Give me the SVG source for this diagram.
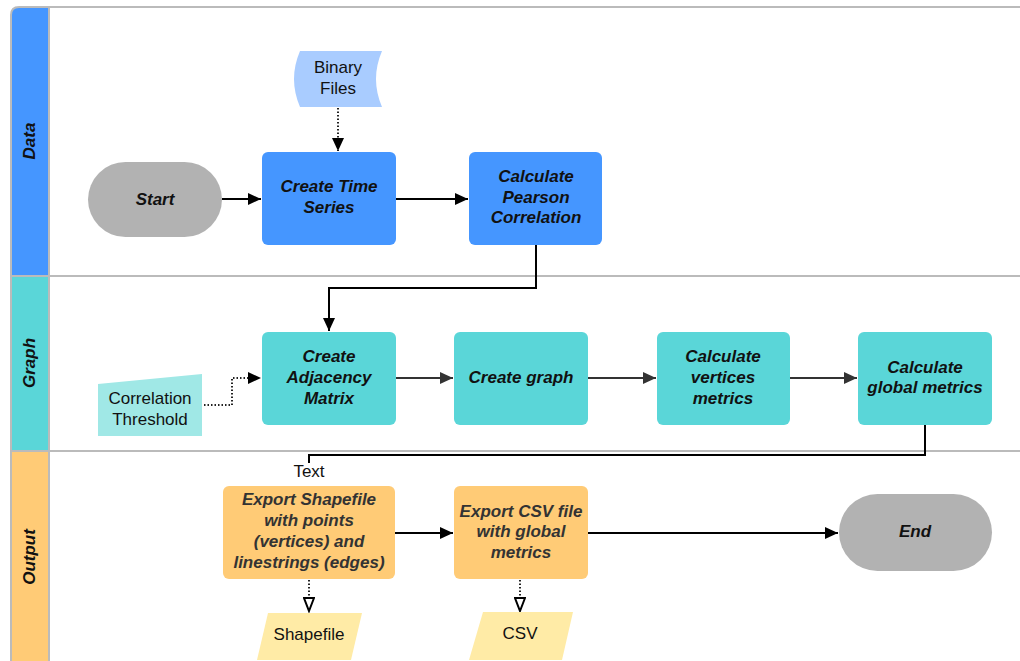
<svg xmlns="http://www.w3.org/2000/svg" width="1020" height="661" viewBox="0 0 1020 661">
<defs>
<style>
.lane{stroke:#BBBBBB;stroke-width:2}
.nt{font-family:"Liberation Sans",Arial,sans-serif;font-size:17px;font-weight:bold;font-style:italic;fill:#111;text-anchor:middle}
.nto{font-family:"Liberation Sans",Arial,sans-serif;font-size:17px;font-weight:bold;font-style:italic;fill:#333;text-anchor:middle}
.dt{font-family:"Liberation Sans",Arial,sans-serif;font-size:17px;fill:#111;text-anchor:middle}
.lt{font-family:"Liberation Sans",Arial,sans-serif;font-size:17px;font-weight:bold;font-style:italic;fill:#111;text-anchor:middle}
.c{fill:none;stroke:#000;stroke-width:2}
.cg{fill:none;stroke:#333;stroke-width:2}
.dot{fill:none;stroke:#222;stroke-width:2;stroke-dasharray:1.5 2}
</style>
<marker id="ah" markerUnits="userSpaceOnUse" markerWidth="14" markerHeight="12" refX="13" refY="6" orient="auto"><path d="M0,0 L13,6 L0,12 Z" fill="#000"/></marker>
<marker id="ahg" markerUnits="userSpaceOnUse" markerWidth="14" markerHeight="12" refX="13" refY="6" orient="auto"><path d="M0,0 L13,6 L0,12 Z" fill="#333"/></marker>
<marker id="ahh" markerUnits="userSpaceOnUse" markerWidth="16" markerHeight="12" refX="14" refY="6" orient="auto"><path d="M1,1 L14,6 L1,11 Z" fill="#fff" stroke="#000" stroke-width="2"/></marker>
</defs>
<rect width="1020" height="661" fill="#fff"/>
<g id="lanes">
<path d="M11,15 Q11,7 19,7 L49,7 L49,276 L11,276 Z" fill="#4596FF"/>
<rect x="11" y="276" width="38" height="175" fill="#5AD6D8"/>
<path d="M11,451 L49,451 L49,661 L11,661 Z" fill="#FFCB76"/>
<path class="lane" fill="none" d="M1022,7 L19,7 Q11,7 11,15 L11,661"/>
<line class="lane" x1="49" y1="7" x2="49" y2="661"/>
<line class="lane" x1="11" y1="276" x2="1022" y2="276"/>
<line class="lane" x1="11" y1="451" x2="1022" y2="451"/>
<text class="lt" transform="translate(35,141) rotate(-90)">Data</text>
<text class="lt" transform="translate(35,363) rotate(-90)">Graph</text>
<text class="lt" transform="translate(35,557) rotate(-90)">Output</text>
</g>
<g id="connectors">
<line class="c" x1="222" y1="199" x2="261" y2="199" marker-end="url(#ah)"/>
<line class="c" x1="396" y1="199" x2="468" y2="199" marker-end="url(#ah)"/>
<line class="dot" x1="338" y1="108" x2="338" y2="151" marker-end="url(#ah)"/>
<polyline class="c" points="536,245 536,288 329,288 329,331" marker-end="url(#ah)"/>
<polyline class="dot" points="204,405 232,405 232,378 261,378" marker-end="url(#ah)"/>
<line class="cg" x1="396" y1="378" x2="453" y2="378" marker-end="url(#ahg)"/>
<line class="cg" x1="588" y1="378" x2="656" y2="378" marker-end="url(#ahg)"/>
<line class="cg" x1="790" y1="378" x2="857" y2="378" marker-end="url(#ahg)"/>
<polyline class="c" points="925,425 925,455 309,455 309,463"/>
<text class="dt" x="309" y="477">Text</text>
<line class="c" x1="395" y1="533" x2="453" y2="533" marker-end="url(#ah)"/>
<line class="c" x1="588" y1="533" x2="838" y2="533" marker-end="url(#ah)"/>
<line class="dot" x1="309" y1="580" x2="309" y2="611" marker-end="url(#ahh)"/>
<line class="dot" x1="520" y1="580" x2="520" y2="611" marker-end="url(#ahh)"/>
</g>
<g id="binary-files">
<path d="M300,51 L382,51 Q370,79 382,107 L300,107 Q288,79 300,51 Z" fill="#A9CCFF"/>
<text class="dt" x="338" y="73">Binary</text>
<text class="dt" x="338" y="94">Files</text>
</g>
<g id="start">
<rect x="88" y="162" width="134" height="75" rx="37.5" fill="#B2B2B2"/>
<text class="nt" x="155" y="205">Start</text>
</g>
<g id="create-time-series">
<rect x="262" y="152" width="134" height="93" rx="6" fill="#4596FF"/>
<text class="nt" x="329" y="192">Create Time</text>
<text class="nt" x="329" y="213">Series</text>
</g>
<g id="pearson">
<rect x="469" y="152" width="133" height="93" rx="6" fill="#4596FF"/>
<text class="nt" x="536" y="182">Calculate</text>
<text class="nt" x="536" y="203">Pearson</text>
<text class="nt" x="536" y="223">Correlation</text>
</g>
<g id="correlation-threshold">
<path d="M98,384 L202,374 L202,436 L98,436 Z" fill="#A0E8E6"/>
<text class="dt" x="150" y="404">Correlation</text>
<text class="dt" x="150" y="425">Threshold</text>
</g>
<g id="adjacency">
<rect x="262" y="332" width="134" height="93" rx="6" fill="#5AD6D8"/>
<text class="nt" x="329" y="362">Create</text>
<text class="nt" x="329" y="383">Adjacency</text>
<text class="nt" x="329" y="404">Matrix</text>
</g>
<g id="create-graph">
<rect x="454" y="332" width="134" height="93" rx="6" fill="#5AD6D8"/>
<text class="nt" x="521" y="383">Create graph</text>
</g>
<g id="vertices-metrics">
<rect x="657" y="332" width="133" height="93" rx="6" fill="#5AD6D8"/>
<text class="nt" x="723" y="362">Calculate</text>
<text class="nt" x="723" y="383">vertices</text>
<text class="nt" x="723" y="404">metrics</text>
</g>
<g id="global-metrics">
<rect x="858" y="332" width="134" height="93" rx="6" fill="#5AD6D8"/>
<text class="nt" x="925" y="373">Calculate</text>
<text class="nt" x="925" y="393">global metrics</text>
</g>
<g id="export-shapefile">
<rect x="223" y="486" width="172" height="93" rx="6" fill="#FFCB76"/>
<text class="nto" x="309" y="505">Export Shapefile</text>
<text class="nto" x="309" y="526">with points</text>
<text class="nto" x="309" y="547">(vertices) and</text>
<text class="nto" x="309" y="568">linestrings (edges)</text>
</g>
<g id="export-csv">
<rect x="454" y="486" width="134" height="93" rx="6" fill="#FFCB76"/>
<text class="nto" x="521" y="517">Export CSV file</text>
<text class="nto" x="521" y="537">with global</text>
<text class="nto" x="521" y="558">metrics</text>
</g>
<g id="end">
<rect x="839" y="494" width="153" height="77" rx="38.5" fill="#B2B2B2"/>
<text class="nt" x="915" y="537">End</text>
</g>
<g id="shapefile">
<path d="M268,613 L362,613 L351,660 L257,660 Z" fill="#FFEBA6"/>
<text class="dt" x="309" y="640">Shapefile</text>
</g>
<g id="csv">
<path d="M483,612 L573,612 L562,660 L469,660 Z" fill="#FFEBA6"/>
<text class="dt" x="520" y="639">CSV</text>
</g>
</svg>
